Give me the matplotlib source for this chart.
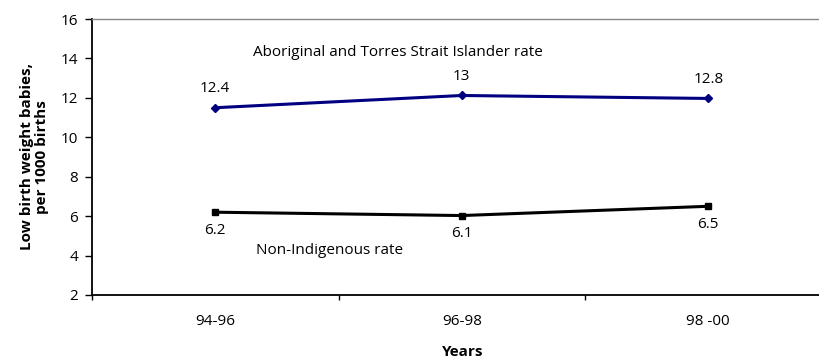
import matplotlib
matplotlib.use('Agg')
import matplotlib.pyplot as plt

plt.rcParams['font.family'] = ['Open Sans', 'DejaVu Sans']

periods = ['94-96', '96-98', '98 -00']
# values as drawn in the picture
atsi_rate = [11.5, 12.12, 11.97]
nonind_rate = [6.2, 6.03, 6.5]
# data labels printed on the chart
atsi_labels = ['12.4', '13', '12.8']
nonind_labels = ['6.2', '6.1', '6.5']

fs = 11

fig = plt.figure(figsize=(8.2, 3.6), dpi=100)
ax = fig.add_axes([92/820, 65/360, 739.5/820, 276/360])

x = list(range(len(periods)))
ax.plot(x, atsi_rate, color='#000080', lw=2.2, marker='D', ms=4.5, zorder=3)
ax.plot(x, nonind_rate, color='black', lw=2.2, marker='s', ms=5, zorder=3)

for xi, yi, lab in zip(x, atsi_rate, atsi_labels):
    ax.annotate(lab, (xi, yi), xytext=(0, 13.5), textcoords='offset points',
                ha='center', va='center', fontsize=fs)
for xi, yi, lab in zip(x, nonind_rate, nonind_labels):
    ax.annotate(lab, (xi, yi), xytext=(0, -13), textcoords='offset points',
                ha='center', va='center', fontsize=fs)

fig.text(253/820, 1 - 52/360, 'Aboriginal and Torres Strait Islander rate',
         ha='left', va='center', fontsize=fs)
fig.text(256/820, 1 - 251/360, 'Non-Indigenous rate',
         ha='left', va='center', fontsize=fs)

ax.set_xlim(-0.5, len(periods) - 0.5)
ax.set_ylim(2, 16)
ax.set_yticks(range(2, 17, 2))
ax.set_xticks([i - 0.5 for i in range(len(periods) + 1)])
ax.set_xticklabels([])
ax.set_xticks(x, minor=True)
ax.set_xticklabels(periods, minor=True)
ax.tick_params(axis='x', which='minor', length=0, pad=14, labelsize=fs)
ax.tick_params(axis='x', which='major', length=3.5, width=1, direction='out')
ax.tick_params(axis='y', length=5, width=1, direction='out', labelsize=fs, pad=5)

ax.spines['left'].set_linewidth(1.3)
ax.spines['bottom'].set_linewidth(1.3)
ax.spines['top'].set_color('#888888')
ax.spines['top'].set_linewidth(1)
ax.spines['right'].set_visible(False)

ax.set_ylabel('Low birth weight babies,\nper 1000 births', fontsize=fs, fontweight='bold',
              labelpad=8, linespacing=1.1)
fig.text(463/820, 1 - 352/360, 'Years', ha='center', va='center', fontsize=fs, fontweight='bold')

fig.savefig('out.png', dpi=100)
